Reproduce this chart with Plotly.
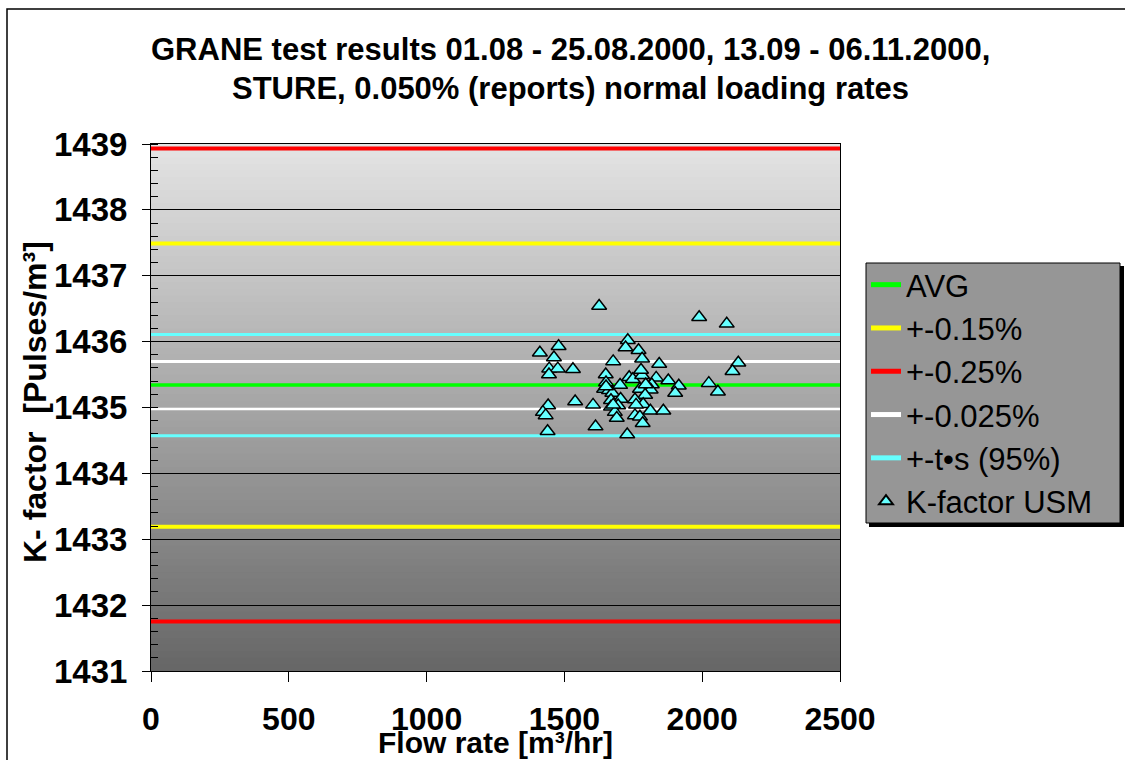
import plotly.graph_objects as go

# ---------------- data ----------------
flow_rate = [1626, 1989, 2089, 1730, 1722, 1769, 1479, 1411, 1462, 1782,
             1844, 1677, 2131, 2110, 1445, 1476, 1531, 1444, 1650, 1735,
             1748, 1782, 1778, 1833, 1877, 1915, 1902, 2024, 2057, 1651,
             1702, 1817, 1813, 1774, 1644, 1662, 1674, 1793, 1704, 1669,
             1756, 1539, 1604, 1441, 1786, 1695, 1669, 1422, 1432, 1683,
             1756, 1812, 1859, 1690, 1774, 1784, 1613, 1439, 1728, 1795,
             1760, 1677, 1651]
k_factor = [1436.54, 1436.37, 1436.27, 1436.02, 1435.91, 1435.87, 1435.93, 1435.83, 1435.76, 1435.74,
            1435.66, 1435.70, 1435.68, 1435.55, 1435.59, 1435.59, 1435.58, 1435.50, 1435.50, 1435.46,
            1435.43, 1435.49, 1435.57, 1435.45, 1435.41, 1435.33, 1435.22, 1435.37, 1435.24, 1435.38,
            1435.34, 1435.35, 1435.27, 1435.28, 1435.28, 1435.26, 1435.22, 1435.19, 1435.13, 1435.11,
            1435.12, 1435.09, 1435.04, 1435.03, 1435.05, 1435.03, 1435.01, 1434.93, 1434.88, 1434.93,
            1434.88, 1434.95, 1434.95, 1434.84, 1434.86, 1434.76, 1434.71, 1434.64, 1434.59, 1435.35,
            1435.04, 1435.04, 1435.32]

limit_names = ["AVG", "+-0.15%", "+-0.25%", "+-0.025%", "+-t\u2022s (95%)"]
limit_upper = [1435.34, 1437.49, 1438.93, 1435.70, 1436.11]
limit_lower = [1435.34, 1433.19, 1431.75, 1434.98, 1434.57]
limit_colors = ["#00ff00", "#ffff00", "#ff0000", "#ffffff", "#66ffff"]
limit_widths = [3, 4, 4, 3, 3]

x_range = [0, 2500]
x_ticks = [0, 500, 1000, 1500, 2000, 2500]
y_range = [1431, 1439]
y_ticks = [1431, 1432, 1433, 1434, 1435, 1436, 1437, 1438, 1439]

title_line1 = "GRANE test results 01.08 - 25.08.2000, 13.09 - 06.11.2000,"
title_line2 = "STURE, 0.050% (reports) normal loading rates"
x_title = "Flow rate [m\u00b3/hr]"
y_title = "K- factor  [Pulses/m\u00b3]"

FONT = "Liberation Sans, Arial, sans-serif"

# pixel helpers for decoration placement (plot area 151..840 x 144..671)
def px_x(p):
    return (p - 151) / 689

def px_y(p):
    return (671 - p) / 527

# ---------------- figure ----------------
fig = go.Figure()

for name, up, lo, col, w in zip(limit_names, limit_upper, limit_lower, limit_colors, limit_widths):
    fig.add_trace(go.Scatter(
        x=[x_range[0], x_range[1], None, x_range[0], x_range[1]],
        y=[up, up, None, lo, lo],
        mode="lines", name=name, legendgroup=name,
        line=dict(color=col, width=w),
        hoverinfo="skip",
    ))

fig.add_trace(go.Scatter(
    x=flow_rate, y=k_factor, mode="markers", name="K-factor USM",
    legendgroup="K-factor USM",
    marker=dict(symbol="triangle-up", size=13, color="#66ffff",
                line=dict(color="black", width=1.5)),
))

# gradient plot background (light at top, dark at bottom)
n_bands = 80
top_c, bot_c = 228, 102
shapes = []
for i in range(n_bands):
    f0 = i / n_bands
    f1 = min(1.0, (i + 1.6) / n_bands)
    t = (i + 0.5) / n_bands
    g = int(round(bot_c + (top_c - bot_c) * t))
    shapes.append(dict(type="rect", xref="x domain", yref="y domain",
                       x0=0, x1=1, y0=f0, y1=f1, layer="below",
                       fillcolor=f"rgb({g},{g},{g})", line=dict(width=0)))
# outer chart border
shapes.append(dict(type="rect", xref="paper", yref="paper",
                   x0=px_x(7), x1=px_x(1135), y0=px_y(800), y1=px_y(9),
                   line=dict(color="black", width=1.5), fillcolor="rgba(0,0,0,0)",
                   layer="below"))
# legend shadow and box
shapes.append(dict(type="rect", xref="paper", yref="paper",
                   x0=px_x(869), x1=px_x(1124), y0=px_y(527), y1=px_y(266),
                   line=dict(width=0), fillcolor="black", layer="above"))
shapes.append(dict(type="rect", xref="paper", yref="paper",
                   x0=px_x(866), x1=px_x(1120), y0=px_y(523), y1=px_y(263),
                   line=dict(color="black", width=1), fillcolor="#969696", layer="above"))

fig.update_layout(
    width=1125, height=760,
    margin=dict(l=151, r=285, t=144, b=89),
    paper_bgcolor="white",
    plot_bgcolor="rgba(0,0,0,0)",
    shapes=shapes,
    showlegend=True,
    legend=dict(
        x=px_x(866), y=px_y(258), xanchor="left", yanchor="top",
        bgcolor="rgba(0,0,0,0)", borderwidth=0,
        font=dict(family=FONT, size=31, color="black"),
        traceorder="grouped", tracegroupgap=0, itemsizing="constant",
    ),
    xaxis=dict(
        range=x_range, tickvals=x_ticks, showgrid=False, zeroline=False,
        showline=True, linecolor="black", linewidth=1, mirror=True,
        ticks="outside", ticklen=10, tickcolor="black", tickwidth=1,
        tickfont=dict(family=FONT, size=32, color="black", weight="bold"),
        ticklabelstandoff=10,
    ),
    yaxis=dict(
        range=y_range, tickvals=y_ticks, showgrid=True, gridcolor="black", gridwidth=1,
        zeroline=False, showline=True, linecolor="black", linewidth=1, mirror=True,
        ticks="outside", ticklen=8, tickcolor="black", tickwidth=1,
        tickfont=dict(family=FONT, size=33, color="black", weight="bold"),
        ticklabelstandoff=8,
        minor=dict(dtick=0.2, ticks="inside", ticklen=7, tickcolor="black", showgrid=False),
    ),
    annotations=[
        dict(text=title_line1, xref="paper", yref="paper",
             x=px_x(570), y=px_y(50), xanchor="center", yanchor="middle",
             showarrow=False, font=dict(family=FONT, size=31, color="black", weight="bold")),
        dict(text=title_line2, xref="paper", yref="paper",
             x=px_x(570), y=px_y(88), xanchor="center", yanchor="middle",
             showarrow=False, font=dict(family=FONT, size=31, color="black", weight="bold")),
        dict(text=x_title, xref="paper", yref="paper",
             x=px_x(495), y=px_y(742), xanchor="center", yanchor="middle",
             showarrow=False, font=dict(family=FONT, size=30, color="black", weight="bold")),
        dict(text=y_title, xref="paper", yref="paper", textangle=-90,
             x=px_x(35), y=px_y(402), xanchor="center", yanchor="middle",
             showarrow=False, font=dict(family=FONT, size=32, color="black", weight="bold")),
    ],
)

fig.write_html("out.html")
